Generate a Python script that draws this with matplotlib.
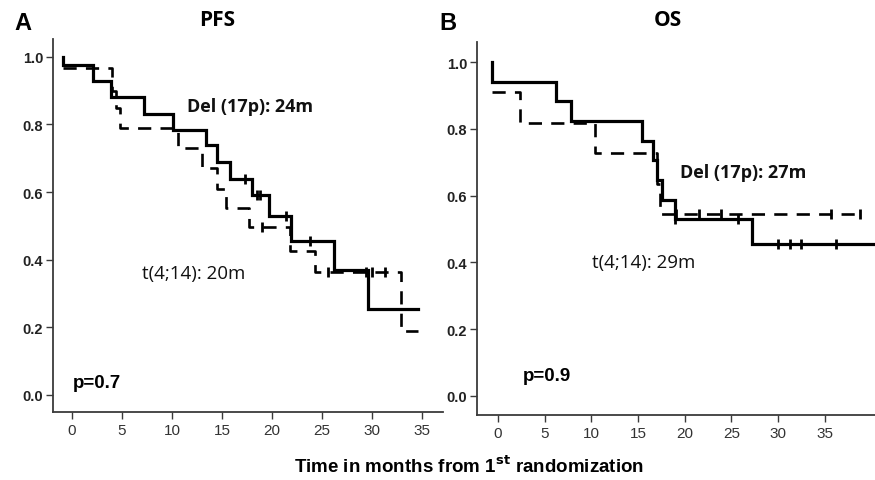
import matplotlib
matplotlib.use('Agg')
import matplotlib.pyplot as plt

# PFS (panel A)
pfs_del_t = [-0.9, -0.9, 2.1, 3.9, 7.2, 10.1, 13.4, 14.5, 15.8, 18.0, 19.7, 21.9, 26.2, 29.6, 34.6]
pfs_del_s = [1.0, 0.977, 0.928, 0.88, 0.831, 0.784, 0.738, 0.688, 0.639, 0.59, 0.528, 0.455, 0.368, 0.254, 0.254]
pfs_del_cens_t = [17.3, 18.5, 18.8, 21.4, 23.8]
pfs_del_cens_s = [0.639, 0.59, 0.59, 0.528, 0.455]

pfs_t414_t = [-0.9, 4.0, 4.4, 4.8, 10.6, 13.0, 14.5, 15.4, 17.7, 21.8, 24.3, 32.9, 34.6]
pfs_t414_s = [0.966, 0.90, 0.85, 0.79, 0.731, 0.671, 0.61, 0.553, 0.496, 0.427, 0.363, 0.19, 0.19]
pfs_t414_cens_t = [19.0, 25.6, 29.4, 30.0, 31.3]
pfs_t414_cens_s = [0.496, 0.363, 0.363, 0.363, 0.363]

# OS (panel B)
os_del_t = [-0.6, -0.6, 6.2, 7.8, 15.4, 16.6, 17.0, 17.6, 19.0, 27.2, 40.5]
os_del_s = [1.0, 0.941, 0.882, 0.824, 0.765, 0.706, 0.647, 0.588, 0.529, 0.455, 0.455]
os_del_cens_t = [19.0, 25.7, 30.0, 31.3, 32.5, 36.2]
os_del_cens_s = [0.529, 0.529, 0.455, 0.455, 0.455, 0.455]

os_t414_t = [-0.6, 2.4, 10.4, 17.0, 17.4, 39.0]
os_t414_s = [0.909, 0.818, 0.727, 0.636, 0.545, 0.545]
os_t414_cens_t = [19.1, 21.5, 23.9, 35.7, 38.8]
os_t414_cens_s = [0.545, 0.545, 0.545, 0.545, 0.545]

yticks = [0.0, 0.2, 0.4, 0.6, 0.8, 1.0]
xticks = [0, 5, 10, 15, 20, 25, 30, 35]

W, H = 875, 481
fig = plt.figure(figsize=(W / 100, H / 100), dpi=100)
axA = fig.add_axes([53 / W, 1 - 413 / H, (443 - 53) / W, (413 - 40) / H])
axB = fig.add_axes([477 / W, 1 - 416 / H, (875 - 477) / W, (416 - 43) / H])

spine_col = '#3a3a3a'


def km_panel(ax, t1, s1, c1t, c1s, t2, s2, c2t, c2s, xlim, ylim):
    ax.step(t1, s1, where='post', color='black', lw=2.3, solid_joinstyle='miter')
    ax.plot(c1t, c1s, ls='none', marker='|', ms=7, mew=2, color='black')
    ax.step(t2, s2, where='post', color='black', lw=1.9, dashes=(5, 3.5))
    ax.plot(c2t, c2s, ls='none', marker='|', ms=7, mew=2, color='black')
    ax.set_xlim(*xlim)
    ax.set_ylim(*ylim)
    ax.set_xticks(xticks)
    ax.set_yticks(yticks)
    ax.set_yticklabels(['%.1f' % v for v in yticks], fontweight='bold')
    for s in ['top', 'right']:
        ax.spines[s].set_visible(False)
    for s in ['left', 'bottom']:
        ax.spines[s].set_color(spine_col)
        ax.spines[s].set_linewidth(1.3)
    ax.tick_params(axis='both', direction='out', length=5, width=1, color=spine_col,
                   labelsize=10.5, labelcolor='#222222', pad=2)
    ax.tick_params(axis='x', labelsize=11, labelcolor='#333333', pad=3)
    for lab in ax.get_yticklabels():
        lab.set_fontfamily('Liberation Sans')
    for lab in ax.get_xticklabels():
        lab.set_fontfamily('Liberation Sans')


km_panel(axA, pfs_del_t, pfs_del_s, pfs_del_cens_t, pfs_del_cens_s,
         pfs_t414_t, pfs_t414_s, pfs_t414_cens_t, pfs_t414_cens_s,
         (-1.9, 37.1), (-0.051, 1.053))
km_panel(axB, os_del_t, os_del_s, os_del_cens_t, os_del_cens_s,
         os_t414_t, os_t414_s, os_t414_cens_t, os_t414_cens_s,
         (-2.25, 40.4), (-0.057, 1.06))

# annotations
axA.text(11.5, 0.855, 'Del (17p): 24m', fontsize=13, fontweight='bold',
         family='Open Sans', va='center', ha='left', color='#111111')
axA.text(7.0, 0.361, 't(4;14): 20m', fontsize=13.5, family='Open Sans',
         va='center', ha='left', color='#111111')
axA.text(0.1, 0.036, 'p=0.7', fontsize=13.5, fontweight='bold',
         family='Liberation Sans', va='center', ha='left')

axB.text(19.5, 0.671, 'Del (17p): 27m', fontsize=13, fontweight='bold',
         family='Open Sans', va='center', ha='left', color='#111111')
axB.text(10.1, 0.401, 't(4;14): 29m', fontsize=13.5, family='Open Sans',
         va='center', ha='left', color='#111111')
axB.text(2.7, 0.06, 'p=0.9', fontsize=13.5, fontweight='bold',
         family='Liberation Sans', va='center', ha='left')

# panel letters and titles
fig.text(23 / W, 1 - 24 / H, 'A', fontsize=17, fontweight='bold',
         family='Liberation Sans', ha='center', va='center')
fig.text(448 / W, 1 - 24 / H, 'B', fontsize=17, fontweight='bold',
         family='Liberation Sans', ha='center', va='center')
fig.text(217 / W, 1 - 21 / H, 'PFS', fontsize=15, fontweight='bold',
         family='Open Sans', ha='center', va='center')
fig.text(668 / W, 1 - 21 / H, 'OS', fontsize=15, fontweight='bold',
         family='Open Sans', ha='center', va='center')

fig.text(469 / W, 1 - 466 / H, r'Time in months from 1$^{\mathbf{st}}$ randomization',
         fontsize=13.5, fontweight='bold', family='Liberation Sans',
         ha='center', va='center')

fig.savefig('out.png', dpi=100)
